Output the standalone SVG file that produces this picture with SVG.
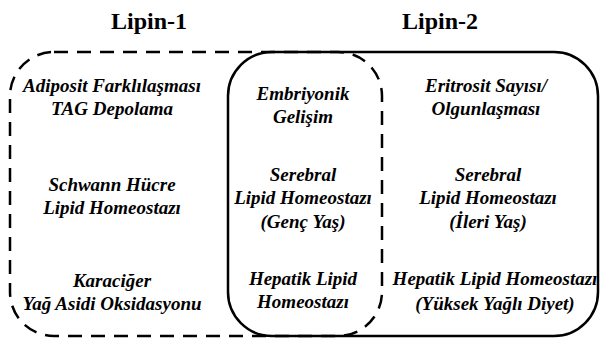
<svg xmlns="http://www.w3.org/2000/svg" width="607" height="345" viewBox="0 0 607 345">
<style>
.title{font-family:'Liberation Serif','Times New Roman',Times,'DejaVu Serif',serif;font-weight:700;font-size:24px;fill:#000;text-anchor:middle}
.t{font-family:'Liberation Serif','Times New Roman',Times,'DejaVu Serif',serif;font-weight:700;font-style:italic;font-size:19px;fill:#000;text-anchor:middle}
.box{fill:none;stroke:#000;stroke-width:2.5}
.dash{stroke-dasharray:14 9}
</style>
<rect width="607" height="345" fill="#fff"/>
<g id="lipin1">
<rect class="box dash" x="10" y="52" width="372" height="284" rx="44" ry="44"/>
<text class="title" x="149" y="29">Lipin-1</text>
</g>
<g id="lipin2">
<rect class="box" x="228" y="52" width="370" height="284" rx="44" ry="44"/>
<text class="title" x="440" y="29">Lipin-2</text>
</g>
<g id="connectors"></g>
<g id="adiposit"><text class="t" x="112" y="92">Adiposit Farklılaşması</text><text class="t" x="112" y="115">TAG Depolama</text></g>
<g id="schwann"><text class="t" x="112" y="191">Schwann Hücre</text><text class="t" x="112" y="214">Lipid Homeostazı</text></g>
<g id="karaciger"><text class="t" x="112" y="287">Karaciğer</text><text class="t" x="112" y="310">Yağ Asidi Oksidasyonu</text></g>
<g id="embriyonik"><text class="t" x="303" y="100">Embriyonik</text><text class="t" x="303" y="123">Gelişim</text></g>
<g id="serebral1"><text class="t" x="303" y="181">Serebral</text><text class="t" x="303" y="204">Lipid Homeostazı</text><text class="t" x="303" y="228">(Genç Yaş)</text></g>
<g id="hepatik1"><text class="t" x="303" y="285">Hepatik Lipid</text><text class="t" x="303" y="308">Homeostazı</text></g>
<g id="eritrosit"><text class="t" x="486" y="92">Eritrosit Sayısı/</text><text class="t" x="486" y="115">Olgunlaşması</text></g>
<g id="serebral2"><text class="t" x="488" y="181">Serebral</text><text class="t" x="488" y="204">Lipid Homeostazı</text><text class="t" x="488" y="228">(İleri Yaş)</text></g>
<g id="hepatik2"><text class="t" x="495" y="285">Hepatik Lipid Homeostazı</text><text class="t" x="495" y="310">(Yüksek Yağlı Diyet)</text></g>
</svg>
